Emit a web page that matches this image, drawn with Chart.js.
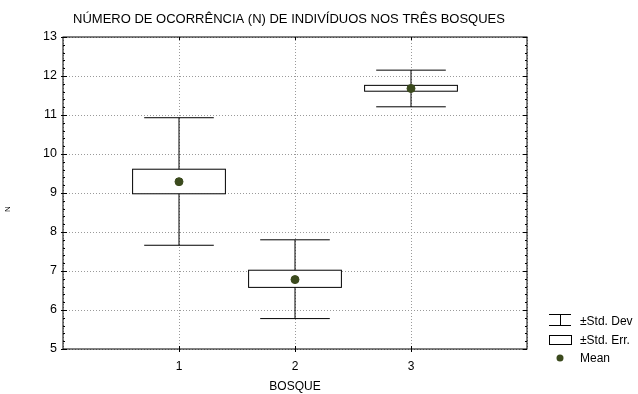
<!DOCTYPE html>
<html>
<head>
<meta charset="utf-8">
<script src="https://cdn.jsdelivr.net/npm/chart.js@4/dist/chart.umd.min.js"></script>
<style>
html,body{margin:0;padding:0;background:#fff;}
#wrap{width:638px;height:394px;}
</style>
</head>
<body>
<div id="wrap"><canvas id="c" width="638" height="394"></canvas></div>
<script>
// ---- data ----
const categories = [1, 2, 3];
const means   = [9.29, 6.78, 11.68];
const seHigh  = [9.61, 7.02, 11.76];
const seLow   = [8.98, 6.58, 11.61];
const sdHigh  = [10.93, 7.80, 12.15];
const sdLow   = [7.66, 5.78, 11.21];
const yTicks  = [5, 6, 7, 8, 9, 10, 11, 12, 13];
const xTicks  = [1, 2, 3];
const legendLabels = ['±Std. Dev', '±Std. Err.', 'Mean'];
const titleText = 'NÚMERO DE OCORRÊNCIA (N) DE INDIVÍDUOS NOS TRÊS BOSQUES';
const yTitle = 'N';
const xTitle = 'BOSQUE';

const FONT = 'Arial, "Liberation Sans", sans-serif';
const DOT = '#3b4a1d';

const boxPlugin = {
  id: 'boxes',
  beforeDatasetsDraw(chart) {
    const ctx = chart.ctx, xs = chart.scales.x, ys = chart.scales.y;
    ctx.save();
    ctx.strokeStyle = '#000';
    ctx.lineWidth = 1;
    categories.forEach((c, i) => {
      const xc = xs.getPixelForValue(c);
      const xcL = xs.getPixelForValue(c - 0.3), xcR = xs.getPixelForValue(c + 0.3);
      const yHi = ys.getPixelForValue(sdHigh[i]), yLo = ys.getPixelForValue(sdLow[i]);
      ctx.beginPath();
      ctx.moveTo(xc, yHi); ctx.lineTo(xc, yLo);
      ctx.moveTo(xcL, yHi); ctx.lineTo(xcR, yHi);
      ctx.moveTo(xcL, yLo); ctx.lineTo(xcR, yLo);
      ctx.stroke();
      const bL = xs.getPixelForValue(c - 0.4), bR = xs.getPixelForValue(c + 0.4);
      const bT = ys.getPixelForValue(seHigh[i]), bB = ys.getPixelForValue(seLow[i]);
      ctx.fillStyle = '#fff';
      ctx.fillRect(bL, bT, bR - bL, bB - bT);
      ctx.strokeRect(bL, bT, bR - bL, bB - bT);
    });
    ctx.restore();
  },
  afterDraw(chart) {
    const ctx = chart.ctx, a = chart.chartArea, ys = chart.scales.y, xs = chart.scales.x;
    ctx.save();
    ctx.strokeStyle = '#000';
    ctx.lineWidth = 1;
    // frame
    ctx.strokeRect(a.left, a.top, a.right - a.left, a.bottom - a.top);
    // y ticks (major + minor) on left and right
    ctx.beginPath();
    for (let v = 5; v <= 13.0001; v += 0.2) {
      const y = Math.round(ys.getPixelForValue(v)) + 0.5;
      const major = Math.abs(v - Math.round(v)) < 1e-6;
      const len = major ? 4 : 2;
      ctx.moveTo(a.left - (major ? 2 : 0), y); ctx.lineTo(a.left + len, y);
      ctx.moveTo(a.right - len, y); ctx.lineTo(a.right, y);
    }
    xTicks.forEach(v => {
      const x = Math.round(xs.getPixelForValue(v)) + 0.5;
      ctx.moveTo(x, a.bottom - 3); ctx.lineTo(x, a.bottom + 3);
      ctx.moveTo(x, a.top); ctx.lineTo(x, a.top + 3);
    });
    ctx.stroke();

    // title
    ctx.fillStyle = '#000';
    ctx.textBaseline = 'middle';
    ctx.textAlign = 'center';
    ctx.font = '13px ' + FONT;
    ctx.fillText(titleText, 289, 19);

    // y-axis title (rotated)
    ctx.save();
    ctx.translate(8, 209);
    ctx.rotate(-Math.PI / 2);
    ctx.font = '8px ' + FONT;
    ctx.fillText(yTitle, 0, 0);
    ctx.restore();

    // legend
    const lx = 560, ly0 = 321, dy = 18.5;
    ctx.beginPath();
    ctx.moveTo(549, ly0 - 6.5); ctx.lineTo(571, ly0 - 6.5);
    ctx.moveTo(549, ly0 + 4.5); ctx.lineTo(571, ly0 + 4.5);
    ctx.moveTo(lx + 0.5, ly0 - 6.5); ctx.lineTo(lx + 0.5, ly0 + 4.5);
    ctx.stroke();
    ctx.strokeRect(549.5, Math.round(ly0 + dy - 5) + 0.5, 22, 9);
    ctx.fillStyle = DOT;
    ctx.beginPath(); ctx.arc(lx, ly0 + 2 * dy, 3.5, 0, Math.PI * 2); ctx.fill();
    ctx.fillStyle = '#000';
    ctx.font = '12px ' + FONT;
    ctx.textAlign = 'left';
    legendLabels.forEach((t, i) => ctx.fillText(t, 580, ly0 + 1 + i * dy));
    ctx.restore();
  }
};

new Chart(document.getElementById('c'), {
  type: 'scatter',
  data: {
    datasets: [{
      label: 'Mean',
      data: categories.map((c, i) => ({x: c, y: means[i]})),
      backgroundColor: DOT,
      borderColor: DOT,
      pointRadius: 4,
      pointHoverRadius: 4
    }]
  },
  options: {
    responsive: false,
    animation: false,
    events: [],
    layout: {padding: {left: 0, right: 111, top: 37, bottom: 0}},
    plugins: {
      legend: {display: false},
      tooltip: {enabled: false},
      title: {display: false}
    },
    scales: {
      x: {
        type: 'linear', min: 0, max: 4,
        afterFit(s) { s.height = 45; },
        afterBuildTicks(s) { s.ticks = [0, ...xTicks, 4].map(v => ({value: v})); },
        ticks: {
          color: '#000', font: {family: FONT, size: 12}, padding: 10, maxRotation: 0,
          callback: v => xTicks.includes(v) ? String(v) : ''
        },
        grid: {color: '#9a9a9a', drawTicks: false, tickLength: 0},
        border: {display: false, dash: [1, 2]},
        title: {display: true, text: xTitle, color: '#000', font: {family: FONT, size: 12}, padding: {top: 1, bottom: 0}}
      },
      y: {
        type: 'linear', min: 5, max: 13,
        afterFit(s) { s.width = 63; },
        afterBuildTicks(s) { s.ticks = yTicks.map(v => ({value: v})); },
        ticks: {color: '#000', font: {family: FONT, size: 12.5}, padding: 6},
        grid: {color: '#9a9a9a', drawTicks: false, tickLength: 0},
        border: {display: false, dash: [1, 2]},
        title: {display: false}
      }
    }
  },
  plugins: [boxPlugin]
});
</script>
</body>
</html>
